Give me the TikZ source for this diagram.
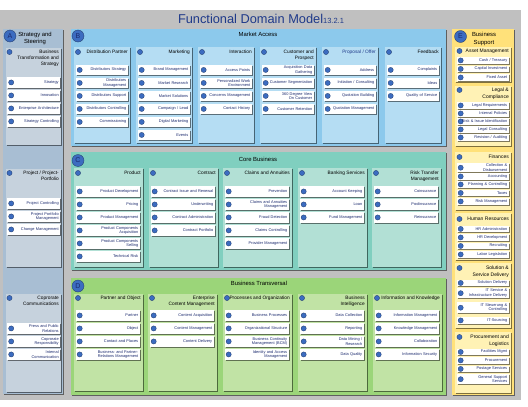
\documentclass[tikz,border=0pt]{standalone}
\usepackage{fontspec}
\setmainfont{Liberation Sans}
\usetikzlibrary{shadows}
\definecolor{bgGrey}{HTML}{C0C0C0}
\definecolor{panA}{HTML}{A8BED3}
\definecolor{subA}{HTML}{C6D2DD}
\definecolor{panB}{HTML}{8CC9EC}
\definecolor{subB}{HTML}{B5DDF3}
\definecolor{panC}{HTML}{80CFBF}
\definecolor{subC}{HTML}{B2E0D5}
\definecolor{panD}{HTML}{9BD579}
\definecolor{subD}{HTML}{C1E3A5}
\definecolor{panE}{HTML}{FFE17A}
\definecolor{subE}{HTML}{FFF2B5}
\definecolor{dotBlue}{HTML}{3C6CC0}
\definecolor{textNavy}{HTML}{1B2A6E}
\definecolor{titleBlue}{HTML}{1F3A8A}
\begin{document}
\begin{tikzpicture}[x=1pt,y=-1pt,
  boxshadow/.style={drop shadow={shadow xshift=1pt,shadow yshift=-1pt,opacity=.5,fill=black}},
  bluedot/.style={fill=dotBlue,draw=dotBlue!55!black,line width=.3pt},
  bigdot/.style={circle,bluedot,minimum size=12pt,inner sep=0pt,text=textNavy,font=\fontsize{7}{7}\selectfont},
  paneltitle/.style={align=center,inner sep=0pt,font=\fontsize{5.9}{7.8}\selectfont},
  coltitle/.style={anchor=north east,align=right,inner sep=0pt,font=\fontsize{4.8}{6}\selectfont},
  coltitleE/.style={coltitle,font=\fontsize{5}{7}\selectfont},
  item/.style={anchor=north west,fill=white,boxshadow,inner xsep=1.5pt,inner ysep=0pt,align=right,
    text=textNavy,font=\fontsize{3.9}{4.5}\selectfont,minimum height=10.5pt,
    path picture={\filldraw[bluedot] ([xshift=4pt]path picture bounding box.west) circle (2.6pt);}},
  itemA/.style={item,text width=50pt},
  itemB/.style={item,text width=49pt},
  itemC/.style={item,text width=61pt},
  itemE/.style={item,text width=49pt,minimum height=6.5pt}]
\useasboundingbox (0,0) rectangle (528,407);
\fill[white] (0,0) rectangle (528,407);
\fill[bgGrey] (0,10) rectangle (521,400);
\node[anchor=base,inner sep=0pt,text=titleBlue] (title) at (261,23) {\fontsize{12.8}{14}\selectfont Functional Domain Model\fontsize{7.5}{8}\selectfont 13.2.1};
% A: strategy and steering
\fill[panA,boxshadow] (3,29) rectangle (63,394);
\node[bigdot] (circA) at (10,36) {A};
\node[paneltitle] (titleA) at (35,38.5) {Strategy and\\Steering};
\fill[subA,boxshadow] (6,48) rectangle (61,145);
\filldraw[bluedot] (9.5,52) circle (2.6pt);
\node[coltitle] (hdBts) at (59,49.5) {Business\\Transformation and\\Strategy};
\node[itemA] (bts1) at (7,77) {Strategy};
\node[itemA] (bts2) at (7,90) {Innovation};
\node[itemA] (bts3) at (7,103) {Enterprise Architecture};
\node[itemA] (bts4) at (7,116) {Strategy Controlling};
\fill[subA,boxshadow] (6,169) rectangle (61,267);
\filldraw[bluedot] (9.5,173) circle (2.6pt);
\node[coltitle] (hdPrj) at (59,170.5) {Project / Project-\\Portfolio};
\node[itemA] (prj1) at (7,198) {Project Controlling};
\node[itemA] (prj2) at (7,211) {Project Portfolio\\Management};
\node[itemA] (prj3) at (7,224) {Change Management};
\fill[subA,boxshadow] (6,294) rectangle (61,392);
\filldraw[bluedot] (9.5,298) circle (2.6pt);
\node[coltitle] (hdCom) at (59,295.5) {Coprorate\\Communications};
\node[itemA] (com1) at (7,323) {Press and Public\\Relations};
\node[itemA] (com2) at (7,336) {Coprorate\\Responsibility};
\node[itemA] (com3) at (7,349) {Internal\\Communication};
% B: market access
\fill[panB,boxshadow] (71,29) rectangle (446,146);
\node[bigdot] (circB) at (78,36) {B};
\node[paneltitle] (titleB) at (258,34) {Market Access};
\fill[subB,boxshadow] (74,47) rectangle (130,143);
\filldraw[bluedot] (78,52) circle (2.6pt);
\node[coltitle] (hdDp) at (128,49.5) {Distribution Partner};
\node[itemB] (dp1) at (75.5,64.5) {Distributors Strategy};
\node[itemB] (dp2) at (75.5,77.5) {Distributors\\Management};
\node[itemB] (dp3) at (75.5,90.5) {Distributors Support};
\node[itemB] (dp4) at (75.5,103.5) {Distributors Controlling};
\node[itemB] (dp5) at (75.5,116.5) {Commissioning};
\fill[subB,boxshadow] (136,47) rectangle (192,143);
\filldraw[bluedot] (140,52) circle (2.6pt);
\node[coltitle] (hdMk) at (190,49.5) {Marketing};
\node[itemB] (mk1) at (137.5,64.5) {Brand Management};
\node[itemB] (mk2) at (137.5,77.5) {Market Research};
\node[itemB] (mk3) at (137.5,90.5) {Market Solutions};
\node[itemB] (mk4) at (137.5,103.5) {Campaign / Lead};
\node[itemB] (mk5) at (137.5,116.5) {Digital Marketing};
\node[itemB] (mk6) at (137.5,129.5) {Events};
\fill[subB,boxshadow] (198,47) rectangle (254,143);
\filldraw[bluedot] (202,52) circle (2.6pt);
\node[coltitle] (hdIa) at (252,49.5) {Interaction};
\node[itemB] (ia1) at (199.5,64.5) {Access Points};
\node[itemB] (ia2) at (199.5,77.5) {Personalized Work\\Environment};
\node[itemB] (ia3) at (199.5,90.5) {Concerns Management};
\node[itemB] (ia4) at (199.5,103.5) {Contact History};
\fill[subB,boxshadow] (260,47) rectangle (316,143);
\filldraw[bluedot] (264,52) circle (2.6pt);
\node[coltitle] (hdCp) at (314,49.5) {Customer and\\Prospect};
\node[itemB] (cp1) at (261.5,64.5) {Acquisition Data\\Gathering};
\node[itemB] (cp2) at (261.5,77.5) {Customer Segmentation};
\node[itemB] (cp3) at (261.5,90.5) {360 Degree View\\On Customer};
\node[itemB] (cp4) at (261.5,103.5) {Customer Retention};
\fill[subB,boxshadow] (322,47) rectangle (378,143);
\filldraw[bluedot] (326,52) circle (2.6pt);
\node[coltitle,text=titleBlue] (hdPo) at (376,49.5) {Proposal / Offer};
\node[itemB] (po1) at (323.5,64.5) {Address};
\node[itemB] (po2) at (323.5,77.5) {Initiation / Consulting};
\node[itemB] (po3) at (323.5,90.5) {Quotation Building};
\node[itemB] (po4) at (323.5,103.5) {Quotation Management};
\fill[subB,boxshadow] (385,47) rectangle (441,143);
\filldraw[bluedot] (389,52) circle (2.6pt);
\node[coltitle] (hdFb) at (439,49.5) {Feedback};
\node[itemB] (fb1) at (386.5,64.5) {Complaints};
\node[itemB] (fb2) at (386.5,77.5) {Ideas};
\node[itemB] (fb3) at (386.5,90.5) {Quality of Service};
% C: core business
\fill[panC,boxshadow] (71,152) rectangle (446,270);
\node[bigdot] (circC) at (78,160.5) {C};
\node[paneltitle] (titleC) at (258,159) {Core Business};
\fill[subC,boxshadow] (74,168) rectangle (143,267);
\filldraw[bluedot] (78,173) circle (2.6pt);
\node[coltitle] (hdPr) at (141,170.5) {Product};
\node[itemC] (pr1) at (75.5,186) {Product Development};
\node[itemC] (pr2) at (75.5,199) {Pricing};
\node[itemC] (pr3) at (75.5,212) {Product Management};
\node[itemC] (pr4) at (75.5,225) {Product Components\\Acquisition};
\node[itemC] (pr5) at (75.5,238) {Product Components\\Selling};
\node[itemC] (pr6) at (75.5,251) {Technical Risk};
\fill[subC,boxshadow] (149,168) rectangle (218,267);
\filldraw[bluedot] (153,173) circle (2.6pt);
\node[coltitle] (hdCt) at (216,170.5) {Contract};
\node[itemC] (ct1) at (150.5,186) {Contract Issue and Renewal};
\node[itemC] (ct2) at (150.5,199) {Underwriting};
\node[itemC] (ct3) at (150.5,212) {Contract Administration};
\node[itemC] (ct4) at (150.5,225) {Contract Portfolio};
\fill[subC,boxshadow] (223,168) rectangle (292,267);
\filldraw[bluedot] (227,173) circle (2.6pt);
\node[coltitle] (hdCl) at (290,170.5) {Claims and Annuities};
\node[itemC] (cl1) at (224.5,186) {Prevention};
\node[itemC] (cl2) at (224.5,199) {Claims and Annuities\\Management};
\node[itemC] (cl3) at (224.5,212) {Fraud Detection};
\node[itemC] (cl4) at (224.5,225) {Claims Controlling};
\node[itemC] (cl5) at (224.5,238) {Provider Management};
\fill[subC,boxshadow] (298,168) rectangle (367,267);
\filldraw[bluedot] (302,173) circle (2.6pt);
\node[coltitle] (hdBk) at (365,170.5) {Banking Services};
\node[itemC] (bk1) at (299.5,186) {Account Keeping};
\node[itemC] (bk2) at (299.5,199) {Loan};
\node[itemC] (bk3) at (299.5,212) {Fund Management};
\fill[subC,boxshadow] (372,168) rectangle (441,267);
\filldraw[bluedot] (376,173) circle (2.6pt);
\node[coltitle] (hdRt) at (439,170.5) {Risk Transfer\\Management};
\node[itemC] (rt1) at (373.5,186) {Coinsurance};
\node[itemC] (rt2) at (373.5,199) {Poolinsurance};
\node[itemC] (rt3) at (373.5,212) {Reinsurance};
% D: business transversal
\fill[panD,boxshadow] (71,278) rectangle (446,395);
\node[bigdot] (circD) at (78,286) {D};
\node[paneltitle] (titleD) at (259,283) {Business Transversal};
\fill[subD,boxshadow] (74,294) rectangle (143,391);
\filldraw[bluedot] (78,298) circle (2.6pt);
\node[coltitle] (hdPa) at (141,295.5) {Partner and Object};
\node[itemC] (pa1) at (75.5,310) {Partner};
\node[itemC] (pa2) at (75.5,323) {Object};
\node[itemC] (pa3) at (75.5,336) {Contact and Places};
\node[itemC] (pa4) at (75.5,349) {Business- and Partner-\\Relations Management};
\fill[subD,boxshadow] (148,294) rectangle (217,391);
\filldraw[bluedot] (152,298) circle (2.6pt);
\node[coltitle] (hdEc) at (215,295.5) {Enterprise\\Content Management};
\node[itemC] (ec1) at (149.5,310) {Content Acquisition};
\node[itemC] (ec2) at (149.5,323) {Content Management};
\node[itemC] (ec3) at (149.5,336) {Content Delivery};
\fill[subD,boxshadow] (223,294) rectangle (292,391);
\filldraw[bluedot] (227,298) circle (2.6pt);
\node[coltitle] (hdPg) at (290,295.5) {Processes and Organization};
\node[itemC] (pg1) at (224.5,310) {Business Processes};
\node[itemC] (pg2) at (224.5,323) {Organizational Structure};
\node[itemC] (pg3) at (224.5,336) {Business Continuity\\Management (BCM)};
\node[itemC] (pg4) at (224.5,349) {Identity and Access\\Management};
\fill[subD,boxshadow] (298,294) rectangle (367,391);
\filldraw[bluedot] (302,298) circle (2.6pt);
\node[coltitle] (hdBi) at (365,295.5) {Business\\Intelligence};
\node[itemC] (bi1) at (299.5,310) {Data Collection};
\node[itemC] (bi2) at (299.5,323) {Reporting};
\node[itemC] (bi3) at (299.5,336) {Data Mining /\\Research};
\node[itemC] (bi4) at (299.5,349) {Data Quality};
\fill[subD,boxshadow] (373,294) rectangle (442,391);
\filldraw[bluedot] (377,298) circle (2.6pt);
\node[coltitle] (hdIk) at (440,295.5) {Information and Knowledge};
\node[itemC] (ik1) at (374.5,310) {Information Management};
\node[itemC] (ik2) at (374.5,323) {Knowledge Management};
\node[itemC] (ik3) at (374.5,336) {Collaboration};
\node[itemC] (ik4) at (374.5,349) {Information Security};
% E: business support
\fill[panE,boxshadow] (452,29) rectangle (514,395);
\node[bigdot] (circE) at (460.5,36.5) {E};
\node[paneltitle] (titleE) at (484,38.8) {Business\\Support};
\fill[subE,boxshadow] (455,47) rectangle (511,82);
\filldraw[bluedot] (459.5,51) circle (2.6pt);
\node[coltitleE] (hdAm) at (509,48.5) {Asset Management};
\node[itemE] (am1) at (456.5,57) {Cash / Treasury};
\node[itemE] (am2) at (456.5,65.5) {Capital Investment};
\node[itemE] (am3) at (456.5,74) {Fixed Asset};
\fill[subE,boxshadow] (455,86) rectangle (511,146);
\filldraw[bluedot] (459.5,90) circle (2.6pt);
\node[coltitleE] (hdLc) at (509,87.5) {Legal \&\\Compliance};
\node[itemE] (lc1) at (456.5,102) {Legal Requirements};
\node[itemE] (lc2) at (456.5,110) {Internal Policies};
\node[itemE] (lc3) at (456.5,118) {Risk \& Issue Identification};
\node[itemE] (lc4) at (456.5,126) {Legal Consulting};
\node[itemE] (lc5) at (456.5,134) {Revision / Auditing};
\fill[subE,boxshadow] (455,152) rectangle (511,210);
\filldraw[bluedot] (459.5,157) circle (2.6pt);
\node[coltitleE] (hdFi) at (509,154.5) {Finances};
\node[itemE,minimum height=9pt] (fi1) at (456.5,163) {Collection \&\\Disbursement};
\node[itemE] (fi2) at (456.5,173) {Accounting};
\node[itemE] (fi3) at (456.5,181) {Planning \& Controlling};
\node[itemE] (fi4) at (456.5,189.5) {Taxes};
\node[itemE] (fi5) at (456.5,198) {Risk Management};
\fill[subE,boxshadow] (455,213) rectangle (511,260);
\filldraw[bluedot] (459.5,219) circle (2.6pt);
\node[coltitleE] (hdHr) at (509,216.5) {Human Resources};
\node[itemE] (hr1) at (456.5,225.5) {HR Administration};
\node[itemE] (hr2) at (456.5,234) {HR Development};
\node[itemE] (hr3) at (456.5,242.5) {Recruiting};
\node[itemE] (hr4) at (456.5,251) {Labor Legislation};
\fill[subE,boxshadow] (455,263) rectangle (511,328);
\filldraw[bluedot] (459.5,268) circle (2.6pt);
\node[coltitleE] (hdSd) at (509,265.5) {Solution \&\\Service Delivery};
\node[itemE] (sd1) at (456.5,279.5) {Solution Delivery};
\node[itemE,minimum height=10pt] (sd2) at (456.5,288) {IT Service \&\\Infrastructure Delivery};
\node[itemE,minimum height=11pt] (sd3) at (456.5,302) {IT Steuerung \&\\Controlling};
\node[itemE] (sd4) at (456.5,317) {IT-Sourcing};
\fill[subE,boxshadow] (455,332) rectangle (511,393);
\filldraw[bluedot] (459.5,337) circle (2.6pt);
\node[coltitleE] (hdPl) at (509,334.5) {Procurement and\\Logistics};
\node[itemE] (pl1) at (456.5,348.5) {Facilities Mgmt};
\node[itemE] (pl2) at (456.5,357) {Procurement};
\node[itemE] (pl3) at (456.5,365.5) {Postage Services};
\node[itemE,minimum height=10pt] (pl4) at (456.5,374) {General Support\\Services};
\end{tikzpicture}
\end{document}
